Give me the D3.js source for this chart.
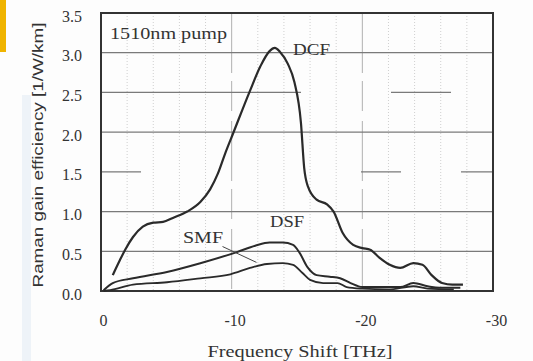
<!DOCTYPE html>
<html>
<head>
<meta charset="utf-8">
<script src="https://cdn.jsdelivr.net/npm/d3@7"></script>
<style>
  body { margin: 0; background: #fdfdfd; }
  svg { display: block; }
</style>
</head>
<body>
<div id="chart"></div>
<script>
const MARGIN = { LEFT: 101, RIGHT: 40, TOP: 13, BOTTOM: 70 }
const W = 533, H = 361
const WIDTH = W - MARGIN.LEFT - MARGIN.RIGHT
const HEIGHT = H - MARGIN.TOP - MARGIN.BOTTOM

// data (shift in THz, gain in 1/W/km)
const dcfShift = [-0.9, -1.45, -1.85, -2.45, -3.2, -4.0, -4.75, -5.5, -6.6, -7.6, -8.35, -8.95, -9.5, -10.1, -11.4, -12.2, -12.9, -13.3, -13.7, -14.3, -14.8, -15.3, -15.55, -15.85, -16.5, -17.3, -17.8, -18.5, -19.3, -20.0, -20.6, -21.3, -22.1, -22.9, -23.9, -24.6, -25.3, -26.1, -26.9, -27.7]
const dcfGain = [0.20, 0.39, 0.52, 0.68, 0.81, 0.86, 0.87, 0.92, 1.00, 1.12, 1.28, 1.48, 1.73, 1.98, 2.52, 2.83, 3.02, 3.06, 3.01, 2.86, 2.63, 2.12, 1.55, 1.31, 1.15, 1.09, 1.00, 0.73, 0.58, 0.54, 0.52, 0.42, 0.33, 0.29, 0.35, 0.33, 0.20, 0.10, 0.08, 0.08]

const dsfShift = [-0.2, -0.9, -2.45, -5.05, -7.6, -10.4, -11.8, -12.9, -13.9, -14.7, -15.2, -15.8, -16.5, -17.5, -18.3, -19.1, -20.0, -21.4, -22.9, -23.9, -25.0, -25.9, -27.5]
const dsfGain = [0.01, 0.10, 0.16, 0.24, 0.35, 0.49, 0.57, 0.61, 0.61, 0.58, 0.48, 0.30, 0.20, 0.18, 0.16, 0.10, 0.05, 0.05, 0.05, 0.10, 0.06, 0.04, 0.04]

const smfShift = [-0.2, -0.7, -2.45, -5.05, -7.6, -9.9, -11.4, -12.7, -13.9, -14.7, -15.4, -16.0, -17.0, -18.1, -18.8, -20.0, -22.0, -23.9, -25.0, -27.0]
const smfGain = [0.00, 0.01, 0.08, 0.11, 0.16, 0.21, 0.29, 0.34, 0.35, 0.33, 0.23, 0.14, 0.10, 0.10, 0.05, 0.03, 0.02, 0.06, 0.03, 0.02]

const xTicks = [0, -10, -20, -30]
const yTicks = [0, 0.5, 1.0, 1.5, 2.0, 2.5, 3.0, 3.5]
const gridMinor = d3.range(-2, -30, -2)

const svg = d3.select("#chart").append("svg")
  .attr("width", W)
  .attr("height", H)

// scan artefacts: yellow tab and faint strip
svg.append("rect").attr("x", 0).attr("y", 0).attr("width", 6).attr("height", 52).attr("fill", "#f0b400")
svg.append("rect").attr("x", 22).attr("y", 95).attr("width", 9).attr("height", 266).attr("fill", "#eef3f8")

const g = svg.append("g")
  .attr("transform", `translate(${MARGIN.LEFT}, ${MARGIN.TOP})`)

// Scales
const x = d3.scaleLinear().domain([0, -30]).range([0, WIDTH])
const y = d3.scaleLinear().domain([0, 3.5]).range([HEIGHT, 0])

// dotted minor grid
g.selectAll(".vminor").data(gridMinor.filter(d => d % 10 !== 0))
  .enter().append("line")
  .attr("x1", d => x(d)).attr("x2", d => x(d))
  .attr("y1", 0).attr("y2", HEIGHT)
  .attr("stroke", "#cfcfcf").attr("stroke-width", 1)
  .attr("stroke-dasharray", "1,2")

g.selectAll(".vmajor").data([-10, -20])
  .enter().append("line")
  .attr("x1", d => x(d)).attr("x2", d => x(d))
  .attr("y1", 0).attr("y2", HEIGHT)
  .attr("stroke", "#b0b0b0").attr("stroke-width", 1)
  .attr("stroke-dasharray", "60,8,30,10")

// horizontal grid, some broken like the scan
const hDash = { 0.5: null, 1.0: null, 1.5: "40,220,40,60,40", 2.0: null, 2.5: "200,90,60", 3.0: "130,60,80,50,70" }
g.selectAll(".hgrid").data(yTicks.filter(d => d > 0 && d < 3.5))
  .enter().append("line")
  .attr("x1", 0).attr("x2", WIDTH)
  .attr("y1", d => y(d)).attr("y2", d => y(d))
  .attr("stroke", "#7a7a7a").attr("stroke-width", 1.2)
  .attr("stroke-dasharray", d => hDash[d.toFixed(1)])

// Axes
const xAxis = g.append("g")
  .attr("transform", `translate(0, ${HEIGHT})`)
  .call(d3.axisBottom(x).tickValues(xTicks).tickSize(0).tickPadding(24).tickFormat(d => String(d)))
const yAxis = g.append("g")
  .call(d3.axisLeft(y).tickValues(yTicks).tickSize(0).tickPadding(19).tickFormat(d3.format(".1f")))
xAxis.select(".domain").remove()
yAxis.select(".domain").remove()
g.selectAll(".tick text")
  .attr("font-family", "Liberation Serif, Times New Roman, serif")
  .attr("font-size", "16px")
  .attr("fill", "#333")
yAxis.selectAll(".tick text").attr("dy", "0.5em")
xAxis.selectAll(".tick text").attr("dx", d => d === 0 ? 2 : 3)

// frame
g.append("rect")
  .attr("width", WIDTH).attr("height", HEIGHT)
  .attr("fill", "none").attr("stroke", "#333").attr("stroke-width", 2)

// curves
const line = d3.line()
  .x(d => x(d[0]))
  .y(d => y(d[1]))
  .curve(d3.curveMonotoneX)

const series = [
  { name: "DCF", shift: dcfShift, gain: dcfGain, w: 2.2 },
  { name: "DSF", shift: dsfShift, gain: dsfGain, w: 2 },
  { name: "SMF", shift: smfShift, gain: smfGain, w: 1.8 }
]
series.forEach(s => {
  g.append("path")
    .datum(d3.zip(s.shift, s.gain))
    .attr("fill", "none")
    .attr("stroke", "#2a2a2a")
    .attr("stroke-width", s.w)
    .attr("stroke-linejoin", "round")
    .attr("d", line)
})

// SMF leader line
g.append("line")
  .attr("x1", x(-9.3)).attr("y1", y(0.56))
  .attr("x2", x(-11.9)).attr("y2", y(0.36))
  .attr("stroke", "#444").attr("stroke-width", 1)

// annotations
const serif = "Liberation Serif, Times New Roman, serif"
svg.append("text").attr("x", 110).attr("y", 39)
  .attr("font-family", serif).attr("font-size", "16px").attr("fill", "#333")
  .attr("textLength", 117).attr("lengthAdjust", "spacingAndGlyphs")
  .text("1510nm pump")
svg.append("text").attr("x", 293).attr("y", 55)
  .attr("font-family", serif).attr("font-size", "16px").attr("fill", "#333")
  .attr("textLength", 37).attr("lengthAdjust", "spacingAndGlyphs")
  .text("DCF")
svg.append("text").attr("x", 270).attr("y", 227)
  .attr("font-family", serif).attr("font-size", "16px").attr("fill", "#333")
  .attr("textLength", 34).attr("lengthAdjust", "spacingAndGlyphs")
  .text("DSF")
svg.append("text").attr("x", 183).attr("y", 243)
  .attr("font-family", serif).attr("font-size", "16px").attr("fill", "#333")
  .attr("textLength", 40).attr("lengthAdjust", "spacingAndGlyphs")
  .text("SMF")

// axis labels
svg.append("text")
  .attr("x", 300).attr("y", 357)
  .attr("text-anchor", "middle")
  .attr("font-family", serif).attr("font-size", "16px").attr("fill", "#333")
  .attr("textLength", 185).attr("lengthAdjust", "spacingAndGlyphs")
  .text("Frequency Shift [THz]")
svg.append("text")
  .attr("transform", "translate(43, 155) rotate(-90)")
  .attr("text-anchor", "middle")
  .attr("font-family", "Liberation Sans, Arial, sans-serif").attr("font-size", "14px").attr("fill", "#333")
  .attr("textLength", 265).attr("lengthAdjust", "spacingAndGlyphs")
  .text("Raman gain efficiency [1/W/km]")
</script>
</body>
</html>
